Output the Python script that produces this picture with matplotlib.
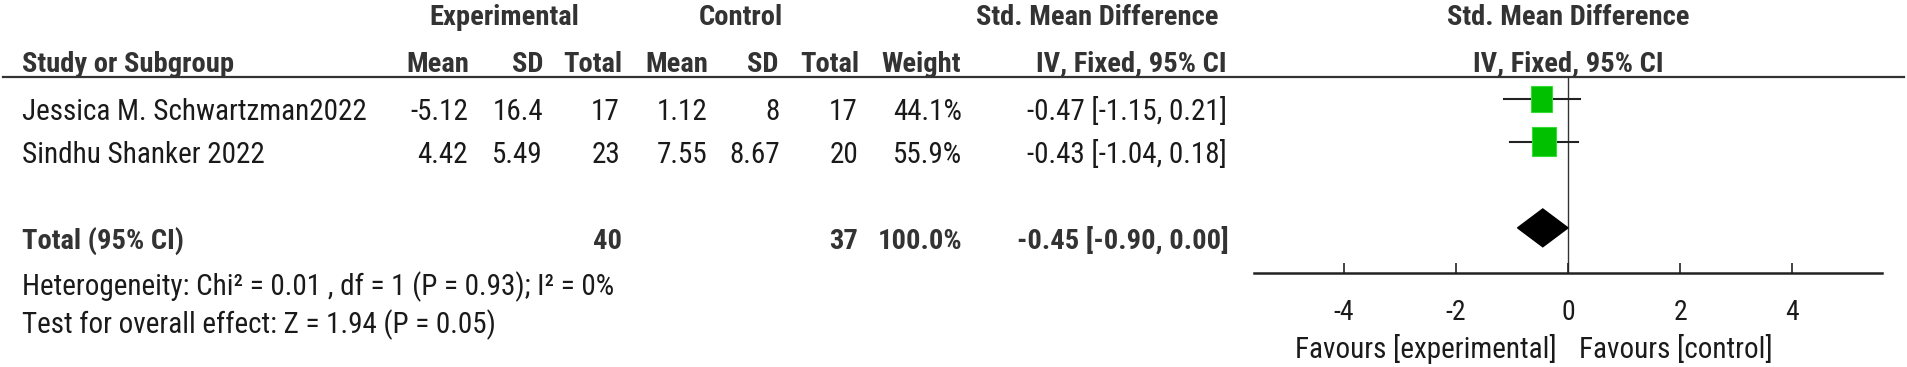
import matplotlib
matplotlib.use('Agg')
import matplotlib.pyplot as plt
import matplotlib.transforms as mtransforms
from matplotlib import font_manager
from matplotlib.patches import Rectangle, Polygon

# Dane z wykresu (forest plot)
studies = ['Jessica M. Schwartzman2022', 'Sindhu Shanker 2022']
exp_mean = ['-5.12', '4.42']
exp_sd = ['16.4', '5.49']
exp_total = [17, 23]
ctrl_mean = ['1.12', '7.55']
ctrl_sd = ['8', '8.67']
ctrl_total = [17, 20]
weights = [44.1, 55.9]
smd = [-0.47, -0.43]
ci_low = [-1.15, -1.04]
ci_high = [0.21, 0.18]

total_exp = 40
total_ctrl = 37
total_weight = 100.0
total_smd = -0.45
total_low = -0.90
total_high = 0.00

heterogeneity = 'Heterogeneity: Chi\u00b2 = 0.01 , df = 1 (P = 0.93); I\u00b2 = 0%'
overall = 'Test for overall effect: Z = 1.94 (P = 0.05)'
x_ticks = [-4, -2, 0, 2, 4]

# Czcionka - waska jak w RevMan
FONT = 'DejaVu Sans'
for name in ['Roboto Condensed', 'PT Sans Narrow', 'Liberation Sans Narrow']:
    try:
        font_manager.findfont(name, fallback_to_default=False)
        FONT = name
        break
    except Exception:
        pass
plt.rcParams['font.family'] = [FONT, 'DejaVu Sans']
plt.rcParams['axes.unicode_minus'] = False

W, H = 1908, 367
fig = plt.figure(figsize=(W / 100, H / 100), dpi=100)

def fx(px):
    return px / W

def fy(py):
    return 1 - py / H

TXT = '#1a1a1a'
HDR = '#333333'
REG = 21
BLD = 20.5

# Obszar wykresu lasu
ax_left, ax_right = 1254, 1882
ax_top, ax_bottom = 77, 273
ax = fig.add_axes([fx(ax_left), fy(ax_bottom), fx(ax_right - ax_left), (ax_bottom - ax_top) / H])
ax.set_xlim(-5.6, 5.6)
row_y = [0, 1]
total_y = 3
ax.set_ylim(4.05, -0.51)
ax.set_facecolor('none')
for s in ['top', 'left', 'right']:
    ax.spines[s].set_visible(False)
ax.spines['bottom'].set_linewidth(1.8)
ax.spines['bottom'].set_color('#222222')
ax.set_yticks([])
ax.set_xticks(x_ticks)
ax.set_xticklabels([str(t) for t in x_ticks], fontsize=20, color=TXT)
ax.tick_params(axis='x', direction='in', length=7, width=1.2, pad=19, colors='#222222')
for lab in ax.get_xticklabels():
    lab.set_color(TXT)

# linia zero
ax.axvline(0, color='#333333', lw=1.0, zorder=1)

# badania: linie CI i kwadraty
for i in range(len(studies)):
    y = row_y[i]
    ax.plot([ci_low[i], ci_high[i]], [y, y], color='#222222', lw=1.5, zorder=2)
    w = 0.057 * weights[i] ** 0.5
    h = 0.0907 * weights[i] ** 0.5
    ax.add_patch(Rectangle((smd[i] - w / 2, y - h / 2), w, h, facecolor='#00c000',
                           edgecolor='#33dd33', lw=0.8, zorder=3))

# romb dla sumy
dh = 0.44
ax.add_patch(Polygon([(total_low, total_y), (total_smd, total_y - dh),
                      (total_high, total_y), (total_smd, total_y + dh)],
                     closed=True, facecolor='black', edgecolor='black', zorder=3))

# linia pod naglowkiem
fig.add_artist(plt.Line2D([fx(3), fx(1904)], [fy(77), fy(77)], color='#333333', lw=1.6))

# naglowki
def t(x, y, s, ha='right', bold=False, size=None):
    fig.text(fx(x), fy(y), s, ha=ha, va='baseline',
             fontsize=size or (BLD if bold else REG),
             fontweight='bold' if bold else 'normal',
             color=HDR if bold else TXT)

t(504, 25, 'Experimental', ha='center', bold=True)
t(741, 25, 'Control', ha='center', bold=True)
t(1097, 25, 'Std. Mean Difference', ha='center', bold=True)
t(1568, 25, 'Std. Mean Difference', ha='center', bold=True)

t(22, 72, 'Study or Subgroup', ha='left', bold=True)
t(469, 72, 'Mean', bold=True)
t(543, 72, 'SD', bold=True)
t(622, 72, 'Total', bold=True)
t(708, 72, 'Mean', bold=True)
t(778, 72, 'SD', bold=True)
t(859, 72, 'Total', bold=True)
t(961, 72, 'Weight', bold=True)
t(1227, 72, 'IV, Fixed, 95% CI', bold=True)
t(1568, 72, 'IV, Fixed, 95% CI', ha='center', bold=True)

# wiersze badan (tekst wyrownany do wierszy osi)
blend = mtransforms.blended_transform_factory(fig.transFigure, ax.transData)
def rt(x, row, s, ha='right', bold=False):
    fig.text(fx(x), row + 0.49, s, ha=ha, va='baseline', transform=blend,
             fontsize=BLD if bold else REG,
             fontweight='bold' if bold else 'normal',
             color=HDR if bold else TXT)

for i in range(len(studies)):
    r = row_y[i]
    rt(22, r, studies[i], ha='left')
    rt(468, r, exp_mean[i])
    rt(543, r, exp_sd[i])
    rt(620, r, str(exp_total[i]))
    rt(708, r, ctrl_mean[i])
    rt(780, r, ctrl_sd[i])
    rt(858, r, str(ctrl_total[i]))
    rt(962, r, f'{weights[i]:.1f}%')
    rt(1227, r, f'{smd[i]:.2f} [{ci_low[i]:.2f}, {ci_high[i]:.2f}]')

rt(22, total_y, 'Total (95% CI)', ha='left', bold=True)
rt(622, total_y, str(total_exp), bold=True)
rt(858, total_y, str(total_ctrl), bold=True)
rt(962, total_y, f'{total_weight:.1f}%', bold=True)
rt(1229, total_y, f'{total_smd:.2f} [{total_low:.2f}, {total_high:.2f}]', bold=True)

t(22, 295, heterogeneity, ha='left')
t(22, 333, overall, ha='left')

t(1557, 358, 'Favours [experimental]', ha='right')
t(1579, 358, 'Favours [control]', ha='left')

fig.savefig('out.png', dpi=100, facecolor='white')
